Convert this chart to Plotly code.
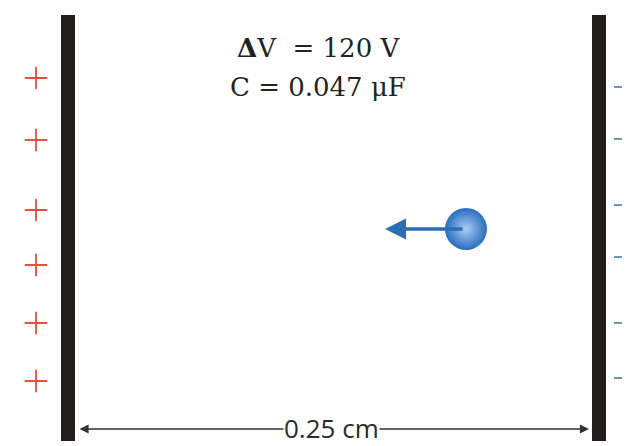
import plotly.graph_objects as go

# diagram laid out on a pixel-like coordinate grid (x right, y down)
plate_x = [68, 599]
plate_span = [15, 441]
plus_x = 36
plus_y = [78, 140, 210, 265, 323, 381]
minus_x = [614, 626]
minus_y = [87, 139, 205, 257, 323, 378]
charge_xy = (466, 229)
force_tip_x = 385
gap_label = "0.25 cm"
label_lines = ["<b>Δ</b>V  = 120 V", "C = 0.047 μF"]
label_y = [48, 87]

fig = go.Figure()

for px in plate_x:
    fig.add_shape(
        type="rect",
        x0=px - 7, x1=px + 7,
        y0=plate_span[0], y1=plate_span[1],
        fillcolor="#211e1c",
        line=dict(width=0),
        layer="above",
    )

fig.add_trace(
    go.Scatter(
        x=[plus_x] * len(plus_y),
        y=plus_y,
        mode="markers",
        marker=dict(symbol="cross-thin", size=16, line=dict(width=1.8, color="#e4503a")),
        hoverinfo="skip",
    )
)

for my in minus_y:
    fig.add_shape(
        type="line",
        x0=minus_x[0], x1=minus_x[1], y0=my, y1=my,
        line=dict(width=2, color="#6a96c4"),
    )

# charged particle
fig.add_trace(
    go.Scatter(
        x=[charge_xy[0]],
        y=[charge_xy[1]],
        mode="markers",
        marker=dict(
            size=42,
            color="#2b6cc0",
            gradient=dict(type="radial", color="#a8cdf2"),
            line=dict(width=0),
        ),
        hoverinfo="skip",
    )
)

# force arrow
fig.add_annotation(
    x=force_tip_x, y=charge_xy[1],
    ax=charge_xy[0] - 2, ay=charge_xy[1],
    xref="x", yref="y", axref="x", ayref="y",
    text="", showarrow=True,
    arrowhead=2, arrowsize=1.2, arrowwidth=3.5, arrowcolor="#2a6fb2",
)

# dimension line between plates
dim_y = 429
fig.add_annotation(
    x=589, y=dim_y, ax=78, ay=dim_y,
    xref="x", yref="y", axref="x", ayref="y",
    text="", showarrow=True, arrowside="end+start",
    arrowhead=2, arrowsize=1.4, arrowwidth=1.3, arrowcolor="#333333",
)
fig.add_annotation(
    x=331, y=dim_y - 1, xref="x", yref="y",
    text=gap_label, showarrow=False,
    font=dict(family="Open Sans", size=26, color="#2b2b2b"),
    bgcolor="white", borderpad=0,
)

for line, ly in zip(label_lines, label_y):
    fig.add_annotation(
        x=318, y=ly, xref="x", yref="y",
        text=line, showarrow=False,
        font=dict(family="DejaVu Serif", size=26, color="#222222"),
    )

# the page body has an 8px margin, so the figure is shrunk by that much
# and the ranges start at 8 to keep the grid aligned with the window
fig.update_xaxes(range=[8, 630], visible=False, fixedrange=True)
fig.update_yaxes(range=[446, 8], visible=False, fixedrange=True)
fig.update_layout(
    width=622, height=438,
    margin=dict(l=0, r=0, t=0, b=0),
    paper_bgcolor="white", plot_bgcolor="white",
    showlegend=False,
)

fig.write_html("out.html")
